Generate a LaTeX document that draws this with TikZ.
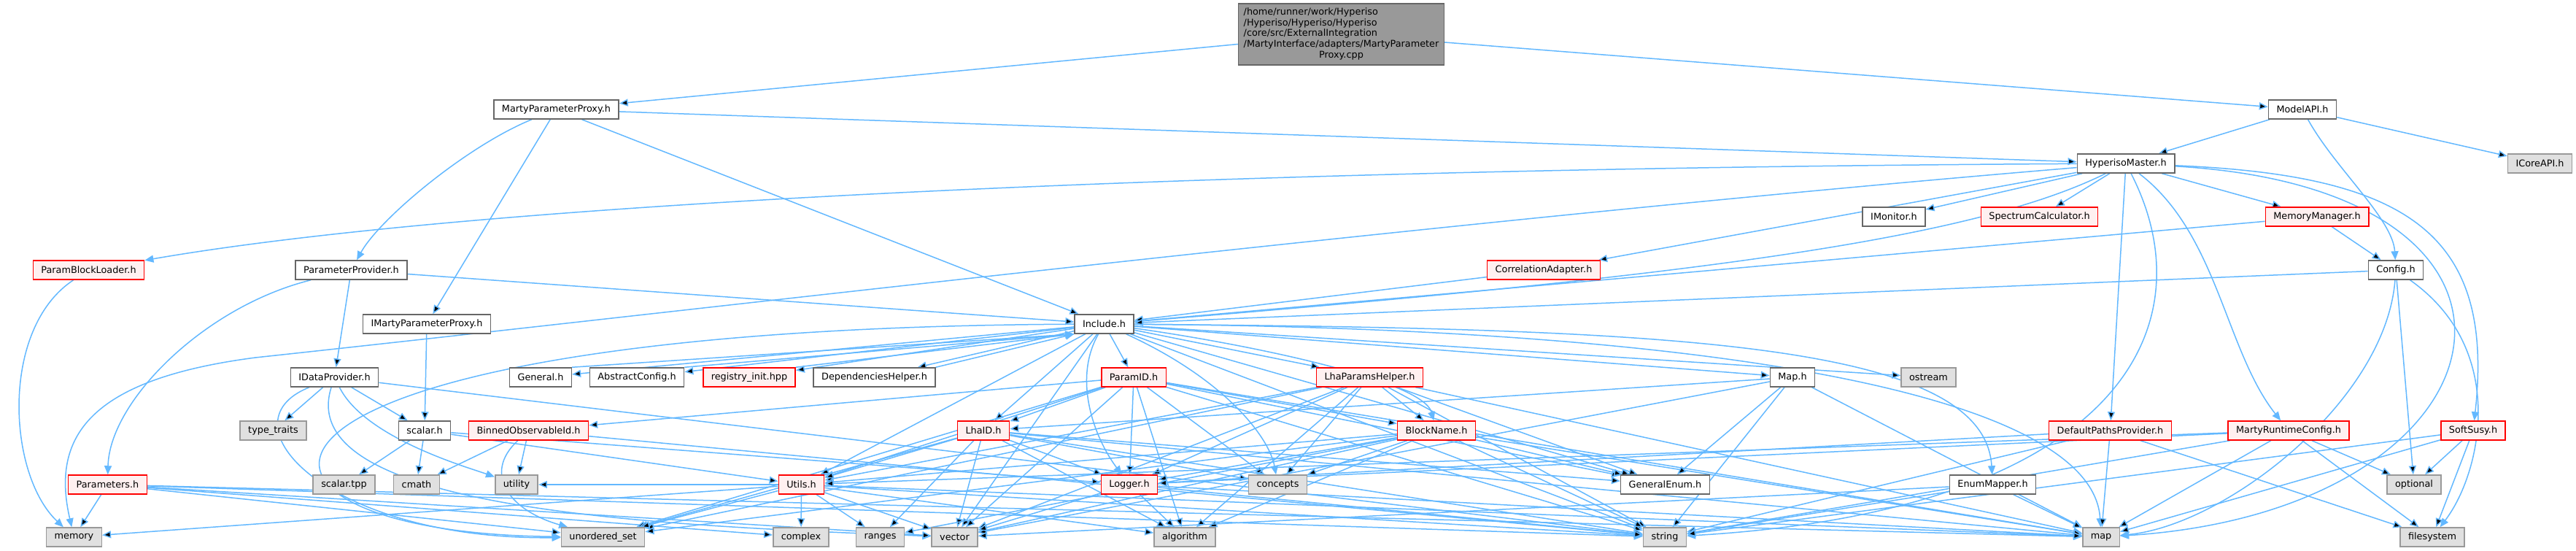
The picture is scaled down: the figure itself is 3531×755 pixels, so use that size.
\documentclass[tikz,border=0pt]{standalone}
\usepackage{fontspec}
\setmainfont{DejaVu Sans}
\usetikzlibrary{arrows.meta}
\definecolor{edgeblue}{HTML}{63B8FF}
\definecolor{docgray}{HTML}{666666}
\definecolor{docred}{HTML}{FF0000}
\definecolor{docpink}{HTML}{FFF0F0}
\definecolor{sysgray}{HTML}{999999}
\definecolor{sysfill}{HTML}{E0E0E0}
\pgfdeclarelayer{bg}
\pgfsetlayers{bg,main}

\begin{document}
\begin{tikzpicture}[x=0.2mm,y=0.2mm]
	\tikzstyle{file}=[draw=docgray,fill=white,line width=0.3mm,minimum height=5.2mm,inner xsep=2.2mm,inner ysep=0.4mm,font=\fontsize{7.3}{8.4}\selectfont]
	\tikzstyle{red file}=[file,draw=docred,fill=docpink]
	\tikzstyle{sys file}=[file,draw=sysgray,fill=sysfill]
	\tikzstyle{main file}=[file,fill=sysgray,inner xsep=1.4mm,inner ysep=1mm]
	\tikzstyle{incl}=[draw=edgeblue,line width=0.3mm,-{Triangle[length=2.4mm,width=2mm]}]

	\useasboundingbox (0,0) rectangle (3531,-755);

	\node[main file] (top) at (1838.5,-47) {\begin{tabular}{@{}l@{}}/home/runner/work/Hyperiso\\/Hyperiso/Hyperiso/Hyperiso\\/core/src/ExternalIntegration\\/MartyInterface/adapters/MartyParameter\\\multicolumn{1}{@{}c@{}}{Proxy.cpp}\end{tabular}};

	\node[file] (mpph) at (762.5,-150) {MartyParameterProxy.h};
	\node[file] (modelapi) at (3156,-150) {ModelAPI.h};
	\node[file] (master) at (2914,-224) {HyperisoMaster.h};
	\node[sys file] (icore) at (3481.5,-224) {ICoreAPI.h};
	\node[file] (imonitor) at (2596,-297) {IMonitor.h};
	\node[red file] (spectrum) at (2795.5,-297) {SpectrumCalculator.h};
	\node[red file] (memmgr) at (3176,-297) {MemoryManager.h};
	\node[red file] (pbl) at (121.5,-370) {ParamBlockLoader.h};
	\node[file] (pprov) at (481.5,-370) {ParameterProvider.h};
	\node[red file] (corr) at (2116,-370) {CorrelationAdapter.h};
	\node[file] (config) at (3284,-370) {Config.h};
	\node[file] (imarty) at (585,-444) {IMartyParameterProxy.h};
	\node[file] (include) at (1513.5,-444) {Include.h};
	\node[file] (idata) at (458.5,-517) {IDataProvider.h};
	\node[file] (general) at (741,-517) {General.h};
	\node[file] (absconf) at (873,-517) {AbstractConfig.h};
	\node[red file] (registry) at (1027,-517) {registry\_init.hpp};
	\node[file] (dephelp) at (1198.5,-517) {DependenciesHelper.h};
	\node[red file] (paramid) at (1554,-517) {ParamID.h};
	\node[red file] (lhaph) at (1877.5,-517) {LhaParamsHelper.h};
	\node[file] (maph) at (2457,-517) {Map.h};
	\node[sys file] (ostream) at (2643.5,-517) {ostream};
	\node[sys file] (typetraits) at (374.5,-590) {type\_traits};
	\node[file] (scalar) at (582,-590) {scalar.h};
	\node[red file] (binned) at (724.5,-590) {BinnedObservableId.h};
	\node[red file] (lhaid) at (1348,-590) {LhaID.h};
	\node[red file] (blockname) at (1969,-590) {BlockName.h};
	\node[red file] (defpaths) at (2892.5,-590) {DefaultPathsProvider.h};
	\node[red file] (martyrt) at (3137,-590) {MartyRuntimeConfig.h};
	\node[red file] (softsusy) at (3390,-590) {SoftSusy.h};
	\node[red file] (params) at (147.5,-664) {Parameters.h};
	\node[sys file] (scalartpp) at (471.5,-664) {scalar.tpp};
	\node[sys file] (cmath) at (571,-664) {cmath};
	\node[sys file] (utility) at (708,-664) {utility};
	\node[red file] (utils) at (1098.5,-664) {Utils.h};
	\node[red file] (logger) at (1548,-664) {Logger.h};
	\node[sys file] (concepts) at (1751.5,-664) {concepts};
	\node[file] (genenum) at (2282.5,-664) {GeneralEnum.h};
	\node[file] (enummapper) at (2731.5,-664) {EnumMapper.h};
	\node[sys file] (optional) at (3309,-664) {optional};
	\node[sys file] (memory) at (101.5,-736) {memory};
	\node[sys file] (uset) at (826.5,-736) {unordered\_set};
	\node[sys file] (complex) at (1098,-736) {complex};
	\node[sys file] (ranges) at (1206.5,-736) {ranges};
	\node[sys file] (vector) at (1308.5,-736) {vector};
	\node[sys file] (algorithm) at (1624,-736) {algorithm};
	\node[sys file] (string) at (2282,-736) {string};
	\node[sys file] (map) at (2880,-736) {map};
	\node[sys file] (filesystem) at (3334,-736) {filesystem};

	\begin{pgfonlayer}{bg}
	\path[incl] (top) edge (mpph) edge (modelapi);
	\path[incl] (mpph) edge (master) edge (imarty) edge (include);
	\draw[incl] (mpph) .. controls (640,-200) and (520,-300) .. (pprov);
	\path[incl] (modelapi) edge (master) edge (icore);
	\draw[incl] (modelapi) .. controls (3200,-230) and (3280,-300) .. (config);
	\path[incl] (master) edge (imonitor) edge (spectrum) edge (memmgr) edge (corr) edge (defpaths);
	\draw[incl] (master) .. controls (1800,-230) and (700,-270) .. (pbl);
	\draw[incl] (master) .. controls (2700,-330) and (2300,-380) .. (include);
	\draw[incl] (master) .. controls (3040,-320) and (3050,-480) .. (martyrt);
	\draw[incl] (master) .. controls (3300,-240) and (3420,-320) .. (softsusy);
	\draw[incl] (master) .. controls (3550,-260) and (3450,-700) .. (map);
	\draw[incl] (master) .. controls (3030,-450) and (2900,-700) .. (string);
	\draw[incl] (master) .. controls (2000,-300) and (1000,-420) .. (350,-490) .. controls (120,-520) and (70,-600) .. (memory);
	\path[incl] (memmgr) edge (config) edge (include);
	\path[incl] (corr) edge (include);
	\path[incl] (config) edge (include) edge (optional);
	\draw[incl] (config) .. controls (3270,-550) and (3050,-720) .. (map);
	\draw[incl] (config) .. controls (3440,-480) and (3400,-650) .. (filesystem);
	\draw[incl] (pbl) .. controls (0,-450) and (10,-650) .. (memory);
	\path[incl] (pprov) edge (idata) edge (include);
	\draw[incl] (pprov) .. controls (280,-420) and (150,-550) .. (params);
	\path[incl] (imarty) edge (scalar);
	\path[incl] (idata) edge (typetraits) edge (scalar) edge (string);
	\draw[incl] (idata) .. controls (500,-600) and (640,-640) .. (utility);
	\draw[incl] (idata) .. controls (300,-580) and (450,-740) .. (uset);
	\draw[incl] (idata) .. controls (400,-700) and (900,-720) .. (vector);
	\path[incl] (scalar) edge (scalartpp) edge (cmath) edge (utils) edge (logger);
	\path[incl] (binned) edge (cmath) edge (utility) edge (string);
	\draw[incl] (binned) .. controls (660,-650) and (700,-700) .. (uset);
	\path[incl] (params) edge (memory) edge (uset) edge (complex) edge (vector) edge (string) edge (map);
	\path[incl] (include) edge (general) edge (absconf) edge (registry) edge (dephelp)
		edge (paramid) edge (lhaph) edge (lhaid) edge (genenum) edge (maph) edge (ostream)
		edge (string) edge (utils) edge (vector);
	\draw[incl] (include) .. controls (1700,-470) and (1950,-520) .. (blockname);
	\draw[incl] (include) .. controls (1470,-520) and (1500,-600) .. (logger);
	\draw[incl] (include) .. controls (1680,-520) and (1740,-600) .. (concepts);
	\draw[incl] (include) .. controls (2300,-450) and (2720,-470) .. (enummapper);
	\draw[incl] (include) .. controls (2400,-450) and (2870,-550) .. (map);
	\draw[incl] (include) .. controls (250,-450) and (250,-730) .. (uset);
	\draw[incl] (general.north east) -- (include.south west);
	\draw[incl] (absconf.north east) -- (include.south west);
	\draw[incl] (registry.north east) -- (include.south west);
	\draw[incl] (dephelp.north east) -- (include.south west);
	\path[incl] (paramid) edge (lhaid) edge (logger) edge (blockname) edge (genenum)
		edge (concepts) edge (algorithm) edge (string) edge (utils)
		edge (uset) edge (vector) edge (binned) edge (map);
	\path[incl] (lhaph) edge (blockname) edge (logger) edge (concepts) edge (genenum)
		edge (string) edge (utils) edge (uset) edge (algorithm) edge (vector) edge (map);
	\path[incl] (lhaid) edge (utils) edge (logger) edge (ranges) edge (vector)
		edge (algorithm) edge (string) edge (genenum) edge (concepts) edge (uset) edge (map);
	\path[incl] (blockname) edge (utils) edge (logger) edge (concepts) edge (genenum) edge (string)
		edge (map) edge (algorithm) edge (vector) edge (ranges) edge (uset);
	\path[incl] (maph) edge (lhaid) edge (genenum) edge (string) edge (map) edge (vector);
	\path[incl] (enummapper) edge (map) edge (string) edge (vector);
	\path[incl] (utils) edge (memory) edge (complex) edge (ranges) edge (vector) edge (uset)
		edge (utility) edge (string) edge (algorithm) edge (map);
	\path[incl] (logger) edge (string) edge (vector) edge (map) edge (algorithm);
	\path[incl] (defpaths) edge (logger) edge (map) edge (string) edge (filesystem);
	\path[incl] (martyrt) edge (logger) edge (map) edge (filesystem) edge (optional) edge (string) edge (utils);
	\path[incl] (softsusy) edge (optional) edge (filesystem) edge (string) edge (map);
	\end{pgfonlayer}
\end{tikzpicture}
\end{document}
